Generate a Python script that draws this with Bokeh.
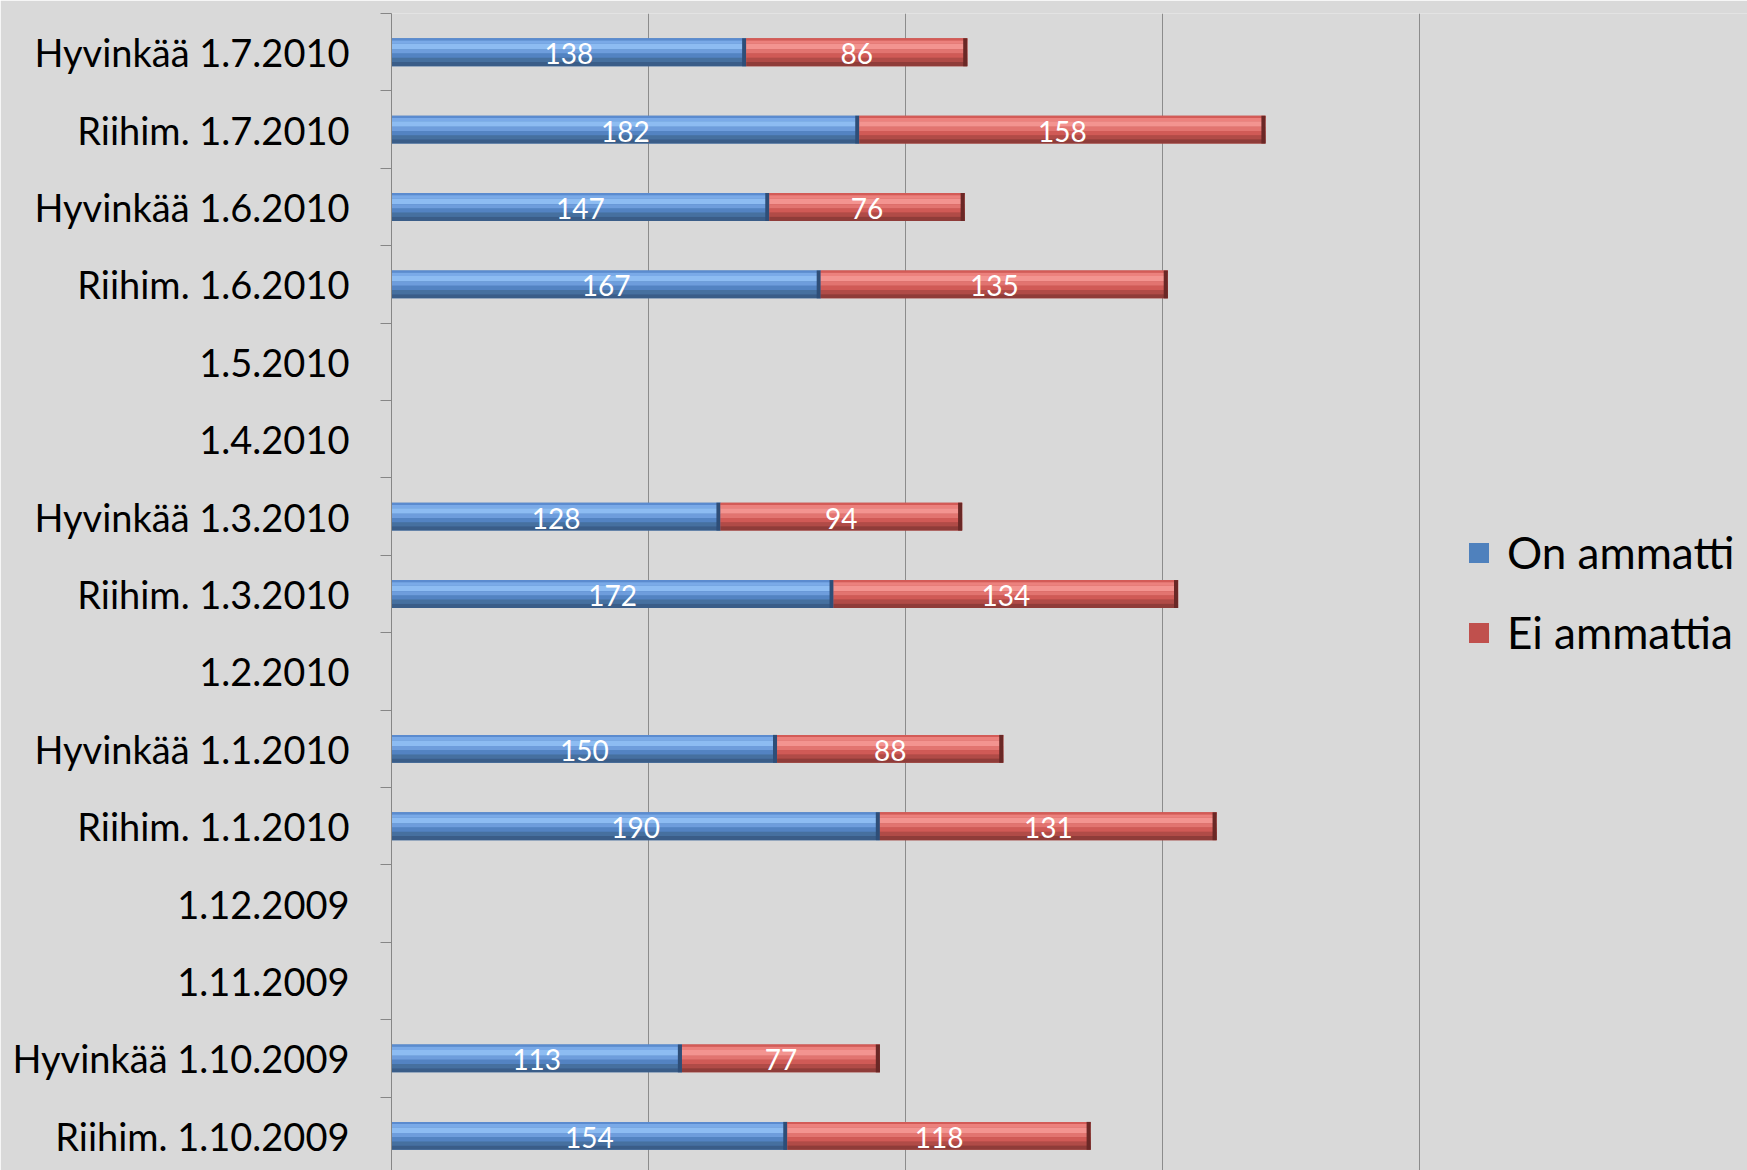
from bokeh.plotting import figure
from bokeh.models import FixedTicker, Range1d, Legend, LegendItem
from bokeh.core.properties import value
from bokeh.embed import file_html
from bokeh.resources import INLINE

# ---- data (bottom to top) ----
categories = ["Riihim. 1.10.2009", "Hyvinkää 1.10.2009", "1.11.2009", "1.12.2009",
              "Riihim. 1.1.2010", "Hyvinkää 1.1.2010", "1.2.2010",
              "Riihim. 1.3.2010", "Hyvinkää 1.3.2010", "1.4.2010", "1.5.2010",
              "Riihim. 1.6.2010", "Hyvinkää 1.6.2010", "Riihim. 1.7.2010", "Hyvinkää 1.7.2010"]
on_ammatti = [154, 113, None, None, 190, 150, None, 172, 128, None, None, 167, 147, 182, 138]
ei_ammattia = [118, 77, None, None, 131, 88, None, 134, 94, None, None, 135, 76, 158, 86]
series_names = ["On ammatti", "Ei ammattia"]
x_ticks = [0, 100, 200, 300, 400]

BG = "#D9D9D9"
n = len(categories)

p = figure(width=1747, height=1170, output_backend="svg", toolbar_location=None,
           x_range=Range1d(0, 527.5), y_range=Range1d(0.052, n),
           x_axis_location=None, y_axis_location="left",
           min_border_left=391, min_border_right=0, min_border_top=13, min_border_bottom=0)
p.background_fill_color = BG
p.border_fill_color = BG
p.outline_line_color = None

p.xgrid.ticker = FixedTicker(ticks=x_ticks)
p.xgrid.grid_line_color = "#8C8C8C"
p.xgrid.grid_line_width = 1
p.ygrid.visible = False

yax = p.yaxis[0]
yax.ticker = FixedTicker(ticks=[i + 0.5 for i in range(n)], minor_ticks=list(range(n + 1)))
yax.major_label_overrides = {i + 0.5: c for i, c in enumerate(categories)}
yax.major_tick_out = 0
yax.major_tick_in = 0
yax.minor_tick_out = 11
yax.minor_tick_in = 0
yax.minor_tick_line_color = "#868686"
yax.axis_line_color = "#868686"
yax.major_label_standoff = 31
yax.major_label_text_font = "Lato"
yax.major_label_text_font_size = "38px"
yax.major_label_text_color = "#000000"

rows = [i for i, v in enumerate(on_ammatti) if v is not None]
ys = [i + 0.5 for i in rows]
on_v = [on_ammatti[i] for i in rows]
ei_v = [ei_ammattia[i] for i in rows]

H = 0.36
band_edges = [0.0, 0.08, 0.2, 0.4, 0.55, 0.7, 0.85, 1.0]
segments = [
    (on_v, [0] * len(on_v), "#4F81BD",
     ["#5B8BCF", "#7AAAE8", "#8DBCF2", "#6E9DDC", "#5383C2", "#46709F", "#3A5D88"],
     "#2E4E78"),
    (ei_v, on_v, "#C0504D",
     ["#D35B57", "#EC817D", "#F39490", "#E27470", "#D05A56", "#B04B47", "#8F3C39"],
     "#6A2826"),
]

base_renderers = []
for vals, lefts, main, band_colors, endc in segments:
    rights = [l + v for l, v in zip(lefts, vals)]
    r = p.hbar(y=ys, left=lefts, right=rights, height=H, fill_color=main, line_color=None)
    base_renderers.append(r)
    for k, c in enumerate(band_colors):
        t, b = band_edges[k], band_edges[k + 1]
        off = H / 2 - (t + b) / 2 * H
        p.hbar(y=[y + off for y in ys], left=lefts, right=rights, height=(b - t) * H,
               fill_color=c, line_color=None)
    p.hbar(y=ys, left=[r_ - 1.6 for r_ in rights], right=rights, height=H,
           fill_color=endc, line_color=None)
    p.text(x=[l + v / 2 for l, v in zip(lefts, vals)], y=[y - 0.02 for y in ys],
           text=[str(v) for v in vals], text_color="white", text_align="center",
           text_baseline="middle", text_font=value("Lato"), text_font_size="28px")

legend = Legend(items=[LegendItem(label=series_names[k], renderers=[base_renderers[k]])
                       for k in range(2)],
                location=(1075, 512))
legend.background_fill_alpha = 0
legend.border_line_color = None
legend.padding = 0
legend.margin = 0
legend.glyph_width = 25
legend.glyph_height = 25
legend.label_height = 44
legend.spacing = 28
legend.label_standoff = 16
legend.label_text_font = "Lato"
legend.label_text_font_size = "44px"
legend.label_text_color = "#000000"
p.add_layout(legend)

open("out.html", "w").write(file_html(p, INLINE))
